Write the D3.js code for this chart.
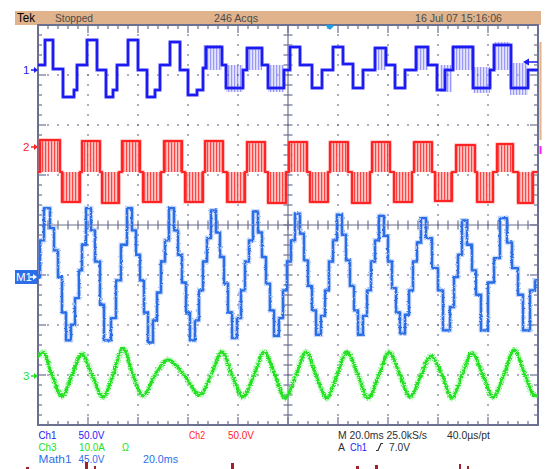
<!DOCTYPE html>
<html>
<head>
<meta charset="utf-8">
<script src="https://cdn.jsdelivr.net/npm/d3@7"></script>
<style>
  body { margin: 0; background: #fff; }
  svg { display: block; font-family: "Liberation Sans", Arial, sans-serif; }
</style>
</head>
<body>
<svg id="scope" width="549" height="469"></svg>
<script>
// Tek scope capture: 20 ms/div, 10 x 8 divisions, 4 traces

// time in ms, values in channel units (V or A) relative to the channel marker
const ch1Trace = [[0,5],[2.8,30],[6,1],[10,-27],[14.4,-20],[15.6,5],[19.6,30],[23.6,0],[27.2,-27],[30,-20],[31.6,5],[36,30],[40,0],[43.6,-27],[46.8,-20],[48.8,5],[52.8,28],[56.8,0],[60,-25],[63.6,-20],[66,2],[67.2,23],[73.6,5],[75.2,-18],[82,0],[83.6,22],[89.6,5],[92,-18],[98.4,0],[100.8,23],[104.8,5],[109.6,-18],[113.6,0],[118,23],[122,6],[126,-18],[130,0],[134.8,22],[139.2,5],[142.8,-18],[146.8,0],[151.2,23],[156,5],[159.6,-20],[162.8,0],[166,23],[174,-18],[180.8,0],[182.4,25],[189.2,-18],[196,0],[200,0]];
// switching (PWM chatter) zones: [t0, t1, vLow, vHigh]
const ch1Chatter = [[66,73.6,0,25],[75.2,82,-22,5],[83.6,89.6,0,22],[92,98.4,-22,5],[134.8,139.2,0,22],[151.2,156,0,23],[160.8,165.6,-22,5],[166,174,0,25],[174,180.8,-23,3],[182.4,188.8,0,28],[188.8,196,-25,7]];

// ch2 pulse blocks: [t0, t1, level]; trace rests on ch2Mid between blocks
const ch2Mid = -25;
const ch2Blocks = [[0.8,8.8,7],[9.6,16.8,-55],[17.6,24.8,6],[25.6,32.4,-56],[33.6,40.8,6],[42,49.2,-55],[50.4,57.6,6],[58.8,66,-55],[66.8,74,6],[75.6,82.8,-55],[83.6,90.8,5],[92,99.2,-56],[100.4,107.6,5],[108.8,116,-55],[116.8,124,5],[125.6,132.8,-56],[133.6,140.8,5],[142.4,149.6,-55],[150.4,157.6,5],[158.8,165.6,-54],[167.2,174.8,2],[175.6,182,-55],[183.6,190,3],[192,198,-56]];

const math1Trace = [[0,0],[0.8,33],[2.4,62],[4.8,44],[6.4,24],[8,0],[9.6,-32],[11.2,-57],[13.2,-43],[14.8,-19],[16.4,6],[17.6,29],[19.2,62],[21.2,42],[22.8,14],[24.8,-25],[26.4,-57],[29.2,-37],[31.2,-3],[33.2,29],[35.6,62],[37.6,42],[39.2,20],[40.8,-3],[42.4,-32],[44,-59],[46,-39],[47.6,-14],[49.2,14],[50.8,33],[52.4,62],[54.4,42],[56,20],[57.6,-5],[59.2,-32],[60.8,-57],[62.8,-39],[64.4,-12],[66,14],[67.6,35],[69.2,60],[71.2,40],[72.8,18],[74.4,-6],[76,-32],[77.6,-55],[79.6,-37],[81.2,-12],[82.8,14],[84.4,33],[86,59],[88,40],[89.6,18],[91.2,-6],[92.8,-30],[94.4,-53],[96.4,-37],[98,-12],[99.6,14],[101.2,33],[102.8,57],[104.8,39],[106.4,15],[108,-8],[109.6,-30],[111.2,-52],[113.2,-35],[114.8,-12],[116.4,14],[118,33],[119.6,56],[121.6,38],[123.2,15],[124.8,-8],[126.4,-30],[128,-52],[130,-35],[131.6,-12],[133.2,14],[134.8,33],[136.4,55],[138.4,37],[140,14],[141.6,-10],[143.2,-32],[144.8,-51],[146.8,-34],[148.4,-12],[150,14],[151.6,31],[153.2,53],[155.2,35],[157.6,8],[160,-12],[162,-48],[164.8,-27],[166.4,0],[168,20],[169.6,51],[171.6,29],[173.6,6],[175.2,-16],[177.2,-48],[180,-5],[182.4,17],[184.8,53],[187.6,31],[189.6,8],[192,-16],[194,-48],[196.8,-12],[198.8,-3],[200,-3]];

const ch3Trace = [[0,3.8],[2,4.8],[5.6,0.2],[9.6,-4],[13.6,0.2],[17.6,4.4],[21.6,0.2],[26,-4.2],[30,0.2],[34,5.6],[38,0.2],[42,-4],[46.8,0.2],[52,3.2],[58.4,0.2],[64.8,-3.8],[69.2,0.2],[73.6,4.8],[77.6,0.2],[82,-4.2],[86.4,0.2],[90.4,4.8],[94.8,0.2],[98.8,-4.4],[103.2,0.2],[107.2,4.8],[111.2,0.2],[115.6,-4.4],[119.6,0.2],[123.6,4.8],[128,0.2],[132,-4.4],[136.4,0.2],[140.4,4.8],[144.8,0.2],[148.8,-4.2],[153.2,0.2],[157.2,4],[161.6,0.2],[165.6,-4.4],[169.6,0.2],[173.6,4.6],[178,0.2],[182,-4.2],[186.4,0.2],[190.4,5.2],[194.8,0.2],[198.8,-4],[200,-3.6]];

// readout text
const headerTexts = ['Tek', 'Stopped', '246 Acqs', '16 Jul 07 15:16:06'];
const readoutRows = [
  ['Ch1', '50.0V', 'Ch2', '50.0V', 'M 20.0ms 25.0kS/s', '40.0\u00b5s/pt'],
  ['Ch3', '10.0A', '\u03a9', 'A', 'Ch1', '7.0V'],
  ['Math1', '45.0V', '20.0ms']
];

// ---- layout ----
const G = { left: 38, top: 25, right: 538, bottom: 425 };
const x = d3.scaleLinear().domain([0, 200]).range([G.left, G.right]);
const xDiv = d3.scaleLinear().domain([0, 10]).range([G.left, G.right]);
const yDiv = d3.scaleLinear().domain([-4, 4]).range([G.bottom, G.top]);

const channels = {
  ch1: { perDiv: 50, pos: 3.1, color: '#1c1cf2', light: '#6b6bff', stripe: '#c4c4ff' },
  ch2: { perDiv: 50, pos: 1.56, color: '#ff2323', light: '#ff7070', stripe: '#ffbcbc' },
  m1:  { perDiv: 45, pos: -1.04, color: '#2c6ee8', light: '#7ea5f3', stripe: '#c4d6fa' },
  ch3: { perDiv: 10, pos: -3.02, color: '#22e222', light: '#7ff07f', stripe: '#c0f7c0' }
};
const yOf = ch => v => yDiv(ch.pos + v / ch.perDiv);

const gridColor = '#6c7090';
const svg = d3.select('#scope');
const defs = svg.append('defs');
defs.append('clipPath').attr('id', 'grat-clip').append('rect')
  .attr('x', G.left).attr('y', G.top).attr('width', G.right - G.left).attr('height', G.bottom - G.top);

Object.entries(channels).forEach(([id, ch]) => {
  const p = defs.append('pattern').attr('id', 'stripe-' + id)
    .attr('patternUnits', 'userSpaceOnUse').attr('width', 3).attr('height', 6);
  p.append('rect').attr('width', 3).attr('height', 6).attr('fill', ch.stripe);
  p.append('rect').attr('width', 1.2).attr('height', 6).attr('fill', ch.color);
});

// signal noise: a fixed turbulence field roughens the analogue traces
const rough = (id, freq, scale) => {
  const f = defs.append('filter').attr('id', id).attr('x', '-5%').attr('y', '-20%').attr('width', '110%').attr('height', '140%');
  f.append('feTurbulence').attr('type', 'fractalNoise').attr('baseFrequency', freq).attr('numOctaves', 2).attr('seed', 3).attr('result', 'n');
  f.append('feDisplacementMap').attr('in', 'SourceGraphic').attr('in2', 'n').attr('scale', scale)
    .attr('xChannelSelector', 'R').attr('yChannelSelector', 'G');
};
rough('rough-ch3', '0.6 0.9', 5);
rough('rough-m1', '0.5 0.7', 2.5);

svg.append('rect').attr('width', 549).attr('height', 469).attr('fill', '#fff');

// header bar
svg.append('rect').attr('x', 15).attr('y', 11).attr('width', 526).attr('height', 14).attr('fill', '#e0b38c');
const headerPos = [[17, 18, '#000'], [55, 38, '#4a4a4a'], [214, 44, '#4a4a4a'], [415, 87, '#4a4a4a']];
headerTexts.forEach((t, i) => {
  svg.append('text').attr('x', headerPos[i][0]).attr('y', 22)
    .attr('textLength', headerPos[i][1]).attr('lengthAdjust', 'spacingAndGlyphs')
    .attr('font-size', i === 0 ? 12 : 11).attr('fill', headerPos[i][2]).text(t);
});

// ---- graticule ----
const grid = svg.append('g');
const minor = d3.range(0, 10.01, 0.2);
const minorY = d3.range(-4, 4.01, 0.2);
// dotted division lines
d3.range(1, 10).filter(d => d !== 5).forEach(d => {
  grid.selectAll(null).data(minorY).enter().append('rect')
    .attr('x', xDiv(d) - 0.75).attr('y', k => yDiv(k) - 0.75).attr('width', 1.5).attr('height', 1.5).attr('fill', gridColor);
});
d3.range(-3, 4).filter(d => d !== 0).forEach(d => {
  grid.selectAll(null).data(minor).enter().append('rect')
    .attr('x', k => xDiv(k) - 0.75).attr('y', yDiv(d) - 0.75).attr('width', 1.5).attr('height', 1.5).attr('fill', gridColor);
});
// centre cross with ticks
grid.append('line').attr('x1', G.left).attr('x2', G.right).attr('y1', yDiv(0)).attr('y2', yDiv(0));
grid.append('line').attr('x1', xDiv(5)).attr('x2', xDiv(5)).attr('y1', G.top).attr('y2', G.bottom);
grid.selectAll(null).data(minor).enter().append('line')
  .attr('x1', d => xDiv(d)).attr('x2', d => xDiv(d)).attr('y1', yDiv(0) - 4.5).attr('y2', yDiv(0) + 4.5);
grid.selectAll(null).data(minorY).enter().append('line')
  .attr('y1', d => yDiv(d)).attr('y2', d => yDiv(d)).attr('x1', xDiv(5) - 4.5).attr('x2', xDiv(5) + 4.5);
// border ticks
const isMajor = d => Math.abs(d - Math.round(d)) < 1e-6;
grid.selectAll(null).data(minor).enter().append('line')
  .attr('x1', d => xDiv(d)).attr('x2', d => xDiv(d)).attr('y1', G.top).attr('y2', d => G.top + (isMajor(d) ? 8 : 4));
grid.selectAll(null).data(minor).enter().append('line')
  .attr('x1', d => xDiv(d)).attr('x2', d => xDiv(d)).attr('y1', G.bottom).attr('y2', d => G.bottom - (isMajor(d) ? 8 : 4));
grid.selectAll(null).data(minorY).enter().append('line')
  .attr('y1', d => yDiv(d)).attr('y2', d => yDiv(d)).attr('x1', G.left).attr('x2', d => G.left + (isMajor(d) ? 8 : 4));
grid.selectAll(null).data(minorY).enter().append('line')
  .attr('y1', d => yDiv(d)).attr('y2', d => yDiv(d)).attr('x1', G.right).attr('x2', d => G.right - (isMajor(d) ? 8 : 4));
grid.selectAll('line').attr('stroke', gridColor).attr('stroke-width', 1.2);
grid.append('rect').attr('x', G.left).attr('y', G.top).attr('width', G.right - G.left).attr('height', G.bottom - G.top)
  .attr('fill', 'none').attr('stroke', gridColor).attr('stroke-width', 2);

// ---- traces ----
const plot = svg.append('g').attr('clip-path', 'url(#grat-clip)');

function drawTrace(points, ch, curve, width, haloWidth, filter) {
  const line = d3.line().x(d => x(d[0])).y(d => yOf(ch)(d[1])).curve(curve);
  const g = plot.append('g');
  if (filter) g.attr('filter', `url(#${filter})`);
  g.append('path').attr('d', line(points)).attr('fill', 'none')
    .attr('stroke', ch.light).attr('stroke-width', haloWidth).attr('stroke-opacity', 0.45);
  g.append('path').attr('d', line(points)).attr('fill', 'none')
    .attr('stroke', ch.color).attr('stroke-width', width).attr('stroke-linejoin', 'round');
}

function drawBands(bands, ch, id, opacity) {
  const y = yOf(ch);
  plot.selectAll(null).data(bands).enter().append('rect')
    .attr('x', d => x(d[0])).attr('width', d => x(d[1]) - x(d[0]))
    .attr('y', d => y(Math.max(d[2], d[3]))).attr('height', d => Math.abs(y(d[2]) - y(d[3])))
    .attr('fill', 'url(#stripe-' + id + ')').attr('opacity', opacity);
}

// ch1
drawBands(ch1Chatter, channels.ch1, 'ch1', 0.45);
drawTrace(ch1Trace, channels.ch1, d3.curveStepAfter, 2.5, 4);

// ch2
const ch2Points = [[0, ch2Mid]];
ch2Blocks.forEach(([t0, t1, v]) => ch2Points.push([t0, v], [t1, ch2Mid]));
ch2Points.push([200, ch2Mid]);
drawBands(ch2Blocks.map(([t0, t1, v]) => [t0, t1, v, ch2Mid]), channels.ch2, 'ch2', 0.85);
drawTrace(ch2Points, channels.ch2, d3.curveStepAfter, 2.2, 3.5);

// math1
drawTrace(math1Trace, channels.m1, d3.curveStepAfter, 2.4, 4.5, 'rough-m1');

// ch3
drawTrace(ch3Trace, channels.ch3, d3.curveMonotoneX, 3, 6, 'rough-ch3');

// ---- markers ----
function arrowRight(g, x0, y0, color) {
  g.append('line').attr('x1', x0).attr('x2', x0 + 5).attr('y1', y0).attr('y2', y0).attr('stroke', color).attr('stroke-width', 1.5);
  g.append('path').attr('d', `M${x0 + 3},${y0 - 3}L${x0 + 7},${y0}L${x0 + 3},${y0 + 3}Z`).attr('fill', color);
}
const markers = [['1', channels.ch1], ['2', channels.ch2], ['3', channels.ch3]];
markers.forEach(([label, ch]) => {
  const y0 = yDiv(ch.pos);
  svg.append('text').attr('x', 23).attr('y', y0 + 4).attr('font-size', 11.5).attr('fill', ch.color).text(label);
  arrowRight(svg, 31, y0, ch.color);
});
const mY = yDiv(channels.m1.pos);
svg.append('rect').attr('x', 15).attr('y', mY - 7).attr('width', 23).attr('height', 14).attr('fill', channels.m1.color);
svg.append('text').attr('x', 16).attr('y', mY + 4).attr('font-size', 11.5).attr('fill', '#fff').text('M1');
arrowRight(svg, 30, mY, '#fff');

// trigger position and level
svg.append('path').attr('d', `M${x(116.8) - 5},${G.top}L${x(116.8) + 5},${G.top}L${x(116.8)},${G.top + 5}Z`).attr('fill', '#1aa0e8');
const trigY = yOf(channels.ch1)(8);
svg.append('line').attr('x1', 526).attr('x2', G.right).attr('y1', trigY).attr('y2', trigY).attr('stroke', channels.ch1.color).attr('stroke-width', 1.5);
svg.append('path').attr('d', `M523,${trigY}L529,${trigY - 3.5}L529,${trigY + 3.5}Z`).attr('fill', channels.ch1.color);

// right-side bars
svg.append('rect').attr('x', 539.5).attr('y', 42).attr('width', 2).attr('height', 98).attr('fill', '#e0b38c');
svg.append('rect').attr('x', 539.5).attr('y', 146).attr('width', 2).attr('height', 8).attr('fill', '#ff1cff');

// ---- readout ----
const dark = '#2e2e2e';
const readoutPos = [
  [[38.5, 18, channels.ch1.color], [78.5, 26, channels.ch1.color], [189, 16, channels.ch2.color], [228, 26, channels.ch2.color], [338, 89, dark], [447, 43, dark]],
  [[38.5, 18, channels.ch3.color], [79, 26, channels.ch3.color], [122, 7, channels.ch3.color], [338, 7, dark], [350, 17, channels.ch1.color], [389, 21, dark]],
  [[38.5, 33, channels.m1.color], [78.5, 26, channels.m1.color], [143, 35, channels.m1.color]]
];
const rowBase = [438.5, 450.5, 463];
readoutRows.forEach((row, r) => {
  row.forEach((t, i) => {
    const [px, w, c] = readoutPos[r][i];
    svg.append('text').attr('x', px).attr('y', rowBase[r]).attr('font-size', 11.5)
      .attr('textLength', w).attr('lengthAdjust', 'spacingAndGlyphs').attr('fill', c).text(t);
  });
});
// rising-edge slope icon
svg.append('path').attr('d', `M376,${rowBase[1]}L378,${rowBase[1]}L381,${rowBase[1] - 7}L383,${rowBase[1] - 7}`)
  .attr('fill', 'none').attr('stroke', dark).attr('stroke-width', 1.2);

// stray marks cut off at the bottom edge
const strayMarks = [[26, 467, 3, 2], [85, 462, 3, 7], [94, 466, 2, 3], [231, 463, 3, 6], [356, 466, 3, 3], [375, 465, 3, 4], [459, 464, 2, 5], [467, 466, 2, 3]];
svg.selectAll(null).data(strayMarks).enter().append('rect')
  .attr('x', d => d[0]).attr('y', d => d[1]).attr('width', d => d[2]).attr('height', d => d[3]).attr('fill', '#a3202c');
</script>
</body>
</html>
